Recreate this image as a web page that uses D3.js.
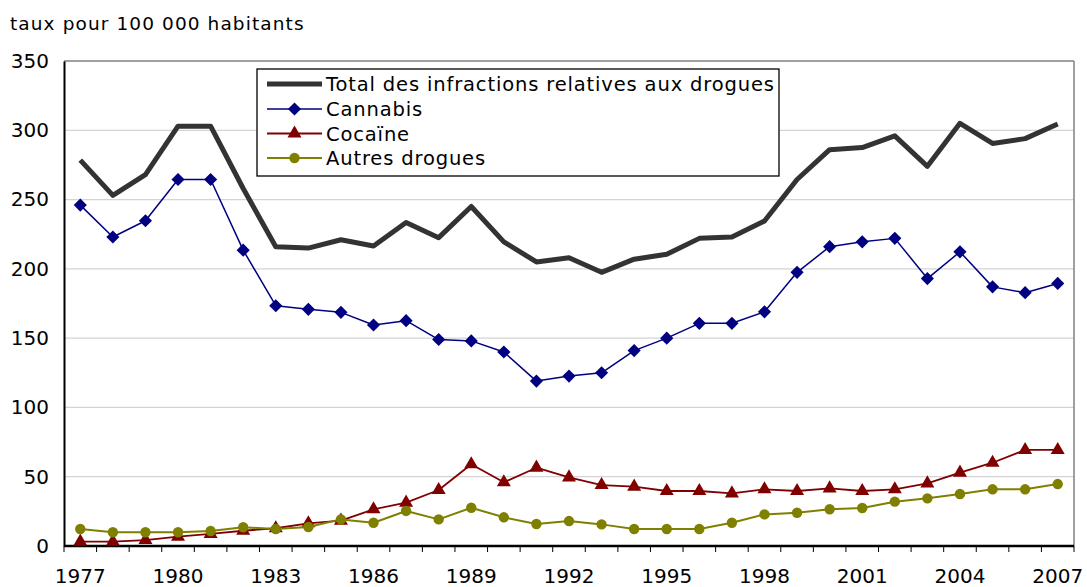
<!DOCTYPE html>
<html><head><meta charset="utf-8">
<script src="https://cdn.jsdelivr.net/npm/d3@7"></script>
<style>body{margin:0;background:#fff;} svg{display:block;font-family:"DejaVu Sans",Verdana,sans-serif;}</style>
</head><body>
<svg id="c" width="1087" height="587"></svg>
<script>
const years = d3.range(1977, 2008);
const tickYears = [1977,1980,1983,1986,1989,1992,1995,1998,2001,2004,2007];
const yTicks = [0,50,100,150,200,250,300,350];
const total = [278.5,253,268,303,303,258,216,215,221,216.5,233.5,222.5,245,219.5,205,208,197.5,207,210.5,222,223,234.5,264.5,286,287.5,296,274,305,290.5,294,304.5];
const cannabis = [246,223,234.7,264.5,264.5,213.5,173.4,170.8,168.6,159.5,162.6,149,148,140,119,122.6,125,141,150,160.7,160.7,169,197.5,216,219.5,222,193,212.3,187,182.8,189.5];
const cocaine = [3.1,3.1,4.3,6.7,8.7,11,12.8,16.4,18.3,26.5,31.3,40.4,59,46,56.5,49.5,44,42.8,39.7,39.7,38,40.9,39.7,41.6,39.7,40.9,45.2,52.9,60.1,69.3,69.3];
const autres = [12.3,9.9,9.9,9.9,10.8,13.5,12.3,13.7,19.2,16.8,25.3,19.2,27.6,20.7,15.9,18,15.6,12.3,12.3,12.3,16.8,22.8,24,26.5,27.4,32,34.4,37.5,40.9,40.9,44.7];
const seriesNames = ["Total des infractions relatives aux drogues","Cannabis","Cocaïne","Autres drogues"];

const svg = d3.select("#c");
const L=64, R=1074, T=61, B=546;
const x = d3.scaleBand().domain(years).range([L,R]);
const xc = d => x(d) + x.bandwidth()/2;
const y = d3.scaleLinear().domain([0,350]).range([B,T]);

// title
svg.append("text").attr("x",10).attr("y",30).attr("font-size",18.5).attr("letter-spacing",1.1).attr("fill","#000").text("taux pour 100 000 habitants");

// grid
svg.append("g").selectAll("line").data(yTicks.filter(v=>v>0&&v<350)).join("line")
  .attr("x1",L).attr("x2",R).attr("y1",d=>y(d)).attr("y2",d=>y(d)).attr("stroke","#d4d4d4").attr("stroke-width",1.3);
// frame top/right
svg.append("line").attr("x1",L).attr("x2",R).attr("y1",T).attr("y2",T).attr("stroke","#808080").attr("stroke-width",1.5);
svg.append("line").attr("x1",R).attr("x2",R).attr("y1",T).attr("y2",B).attr("stroke","#808080").attr("stroke-width",1.5);

// y axis
const ya = svg.append("g").attr("transform",`translate(${L},0)`).call(d3.axisLeft(y).tickValues(yTicks).tickSize(0).tickPadding(15));
ya.select(".domain").attr("stroke","#000").attr("stroke-width",2);
ya.selectAll("text").attr("font-size",20).attr("fill","#000").attr("font-family","DejaVu Sans");

// x axis with ticks at band boundaries
const xa = svg.append("g").attr("transform",`translate(0,${B})`);
xa.append("line").attr("x1",L).attr("x2",R).attr("stroke","#000").attr("stroke-width",2.5);
const bounds = years.map(d=>x(d)).concat([R]);
xa.selectAll("line.t").data(bounds).join("line").attr("class","t")
  .attr("x1",d=>d).attr("x2",d=>d).attr("y1",0).attr("y2",6).attr("stroke","#000").attr("stroke-width",1);
xa.selectAll("text").data(tickYears).join("text")
  .attr("x",d=>xc(d)).attr("y",37).attr("text-anchor","middle").attr("font-size",20).attr("fill","#000").text(d=>d);

const line = d3.line().x((d,i)=>xc(years[i])).y(d=>y(d));
const sym = {
  diamond: d3.symbol().type(d3.symbolDiamond2).size(110),
  triangle: d3.symbol().type(d3.symbolTriangle).size(85),
  circle: d3.symbol().type(d3.symbolCircle).size(85)
};
const specs = [
  {data:total, color:"#333333", w:5, m:null},
  {data:cannabis, color:"#000080", w:1.5, m:"diamond"},
  {data:cocaine, color:"#800000", w:1.8, m:"triangle"},
  {data:autres, color:"#808000", w:2, m:"circle"}
];
specs.forEach(s=>{
  svg.append("path").datum(s.data).attr("d",line).attr("fill","none").attr("stroke",s.color).attr("stroke-width",s.w).attr("stroke-linejoin","round");
  if(s.m){
    svg.append("g").selectAll("path").data(s.data).join("path")
      .attr("d",sym[s.m]).attr("transform",(d,i)=>`translate(${xc(years[i])},${y(d)})`).attr("fill",s.color);
  }
});

// legend
const lg = svg.append("g");
lg.append("rect").attr("x",257).attr("y",69).attr("width",522).attr("height",107).attr("fill","#fff").attr("stroke","#000").attr("stroke-width",1.3);
const rowY = [84,109,133.5,158];
specs.forEach((s,i)=>{
  lg.append("line").attr("x1",267).attr("x2",322).attr("y1",rowY[i]).attr("y2",rowY[i]).attr("stroke",s.color).attr("stroke-width",s.w);
  if(s.m) lg.append("path").attr("d",sym[s.m]).attr("transform",`translate(294.5,${rowY[i]})`).attr("fill",s.color);
  lg.append("text").attr("x",326).attr("y",rowY[i]+7).attr("font-size",19.5).attr("letter-spacing",0.85).attr("fill","#000").text(seriesNames[i]);
});
</script>
</body></html>
